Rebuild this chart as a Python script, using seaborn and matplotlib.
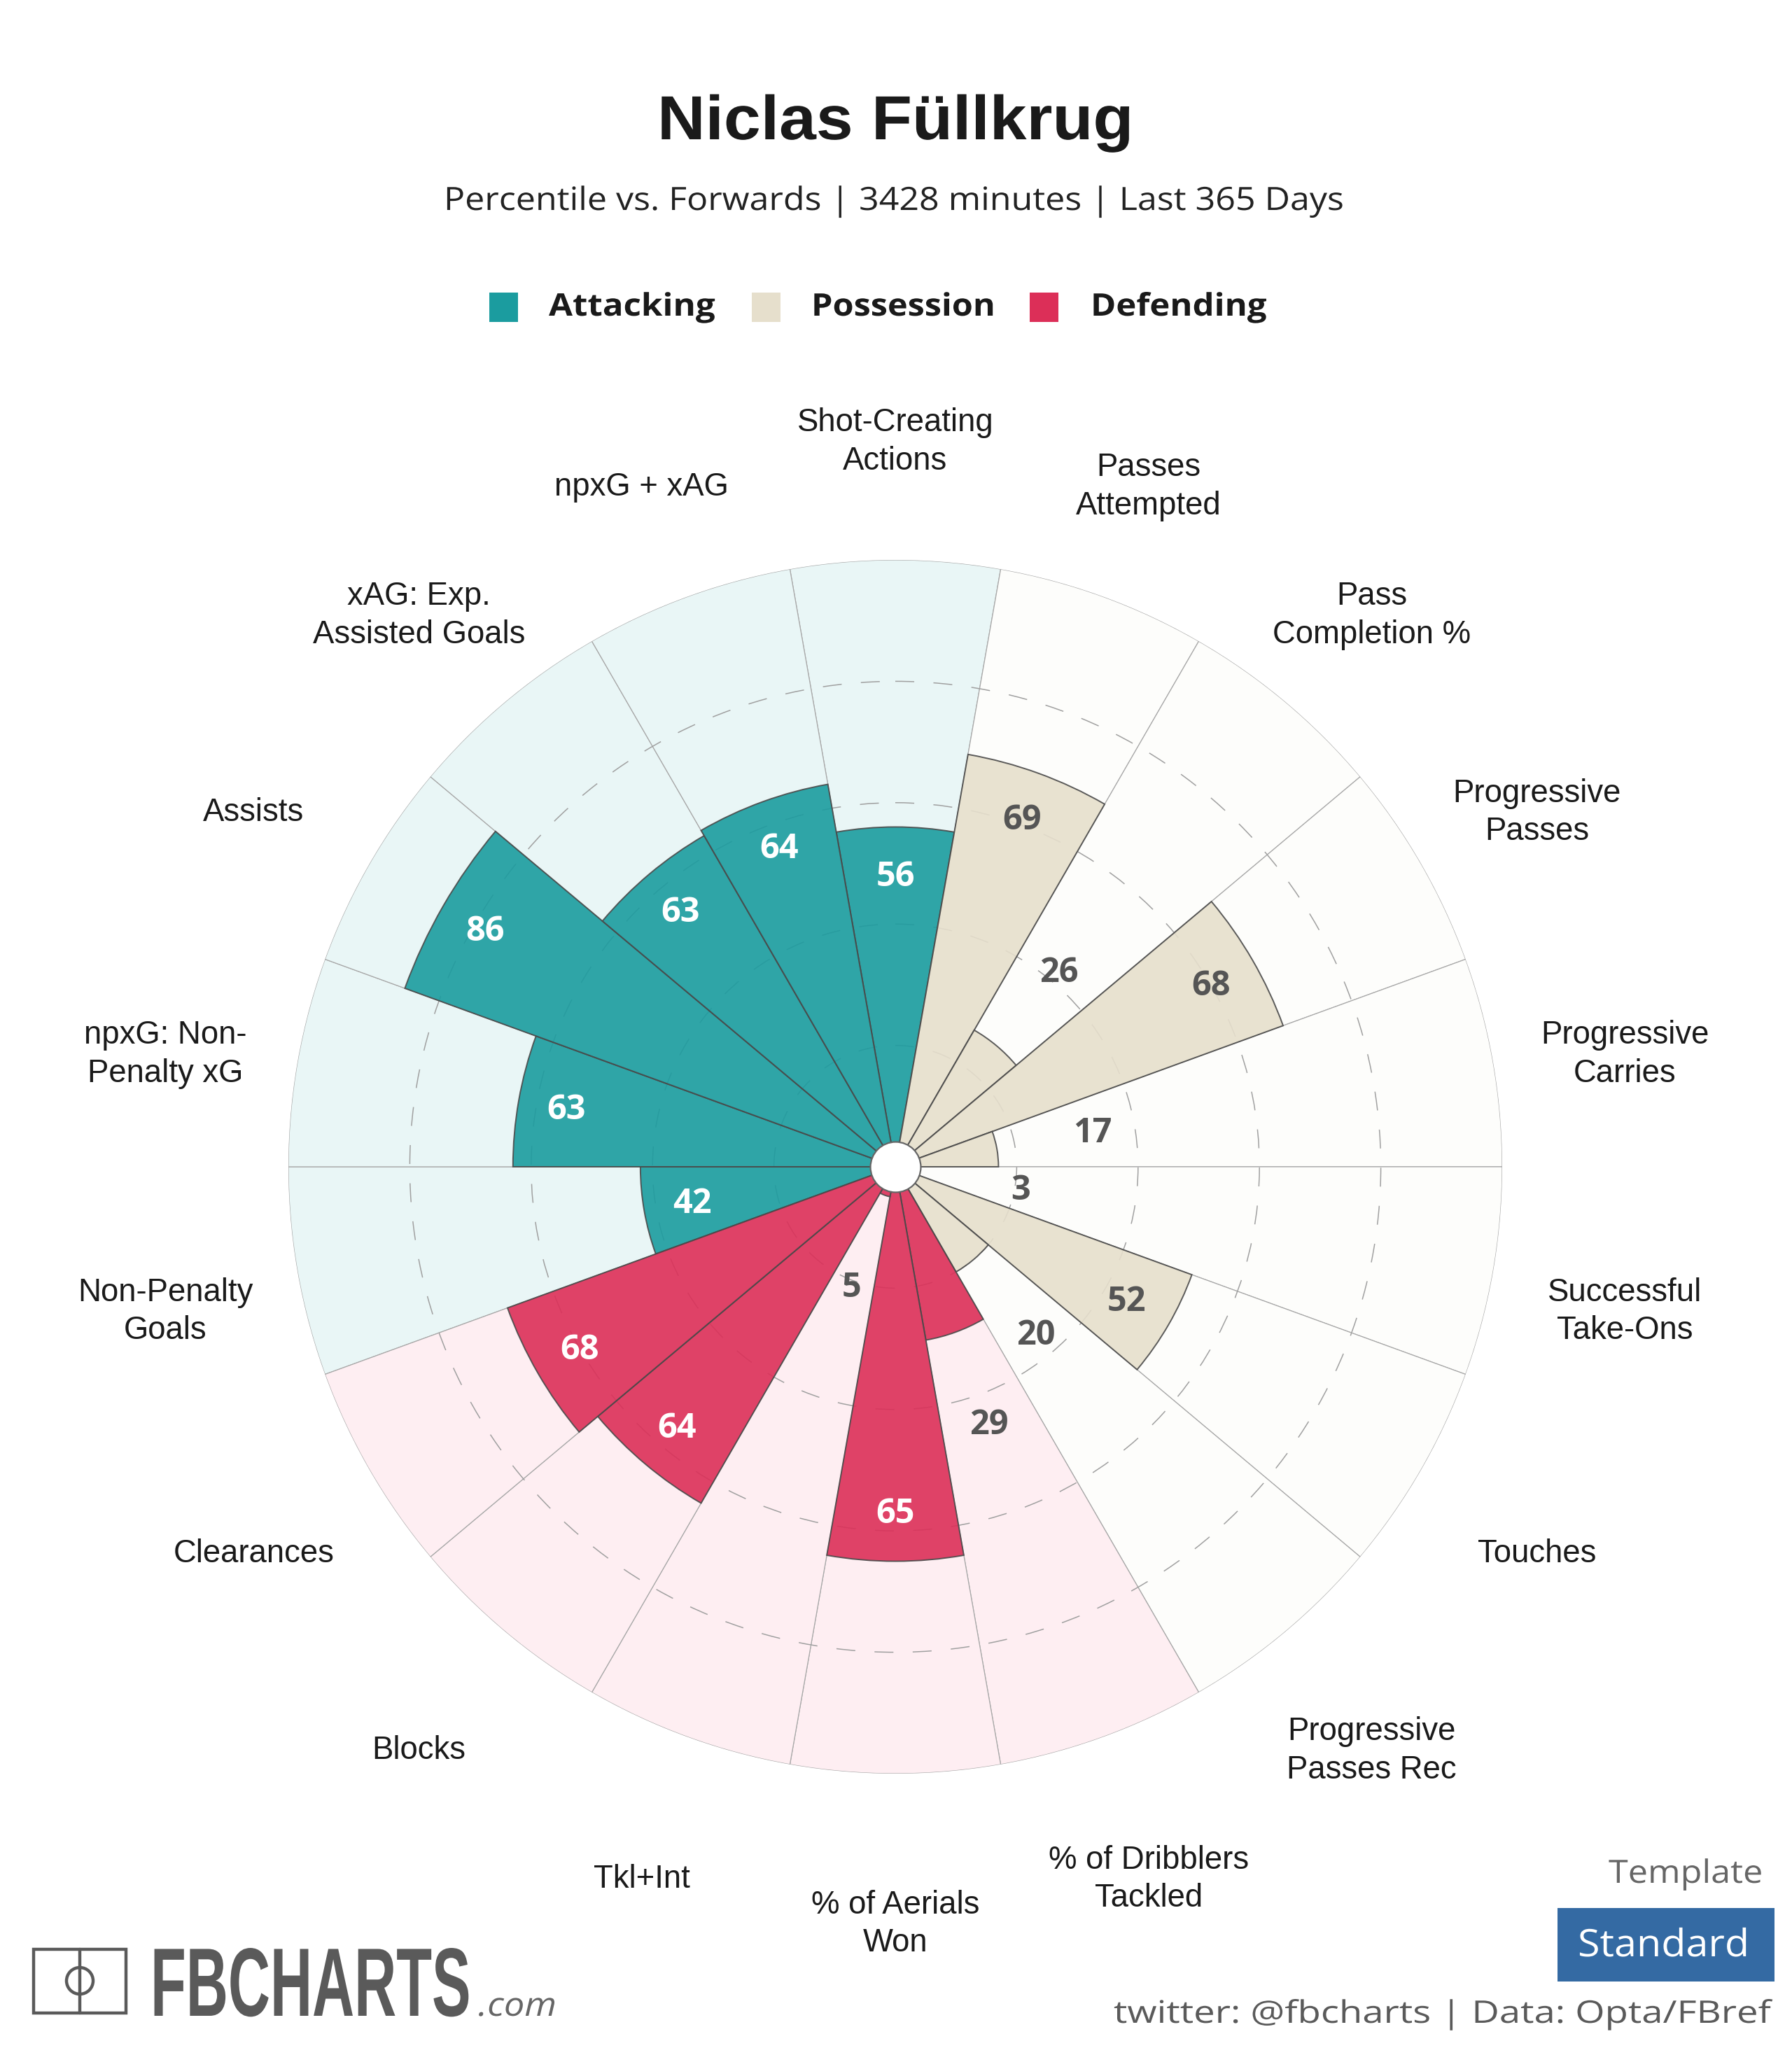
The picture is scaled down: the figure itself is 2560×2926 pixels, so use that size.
import numpy as np
import pandas as pd
import matplotlib
matplotlib.use('Agg')
import matplotlib.pyplot as plt
import matplotlib.patheffects as pe
from matplotlib.patches import Rectangle, Ellipse
from matplotlib.lines import Line2D
from matplotlib.transforms import Affine2D
import seaborn as sns

# valores del radar, en sentido horario desde arriba
metrics = ['Shot-Creating\nActions', 'Passes\nAttempted', 'Pass\nCompletion %', 'Progressive\nPasses',
           'Progressive\nCarries', 'Successful\nTake-Ons', 'Touches', 'Progressive\nPasses Rec',
           '% of Dribblers\nTackled', '% of Aerials\nWon', 'Tkl+Int', 'Blocks', 'Clearances',
           'Non-Penalty\nGoals', 'npxG: Non-\nPenalty xG', 'Assists', 'xAG: Exp.\nAssisted Goals', 'npxG + xAG']
percentiles = [56, 69, 26, 68, 17, 3, 52, 20, 29, 65, 5, 64, 68, 42, 63, 86, 63, 64]
groups = ['Attacking', 'Possession', 'Possession', 'Possession', 'Possession', 'Possession', 'Possession',
          'Possession', 'Defending', 'Defending', 'Defending', 'Defending', 'Defending',
          'Attacking', 'Attacking', 'Attacking', 'Attacking', 'Attacking']
group_order = ['Attacking', 'Possession', 'Defending']
full_scale = [100] * len(metrics)

bar_colors = {'Attacking': '#1B9C9F', 'Possession': '#E6DFCC', 'Defending': '#DC2F58'}
back_colors = {'Attacking': '#E9F6F6', 'Possession': '#FDFDFB', 'Defending': '#FEEEF2'}

W, H = 2560, 2926
DPI = 200
CX, CY, R = 1279, 1667, 867


def fx(x):
    return x / W


def fy(y):
    return 1 - y / H


class Stretch(pe.AbstractPathEffect):
    # estira el texto sobre su linea base, sigue siendo texto
    def __init__(self, sx, sy=1):
        super().__init__()
        self.sx = sx
        self.sy = sy

    def draw_path(self, renderer, gc, tpath, affine, rgbFace=None):
        renderer.draw_path(gc, tpath, Affine2D().scale(self.sx, self.sy) + affine, rgbFace)


def fit_text(x, baseline, width, text, sy=1, **kws):
    t = fig.text(fx(x), fy(baseline), text, ha='left', va='baseline', **kws)
    box = t.get_window_extent(fig.canvas.get_renderer())
    t.set_path_effects([Stretch(width / box.width, sy)])
    return t


sns.set_theme(style='white')
plt.rcParams['font.family'] = ['Liberation Sans', 'DejaVu Sans']

data = pd.DataFrame({'metric': metrics, 'value': percentiles, 'scale': full_scale, 'group': groups})
data['theta'] = np.deg2rad(np.arange(len(metrics)) * 360 / len(metrics))

fig = plt.figure(figsize=(W / DPI, H / DPI), dpi=DPI, facecolor='white')
ax = fig.add_axes([fx(CX - R), fy(CY + R), 2 * R / W, 2 * R / H], projection='polar')
ax.set_theta_zero_location('N')
ax.set_theta_direction(-1)

# sectores de fondo
sns.barplot(data=data, x='theta', y='scale', hue='group', hue_order=group_order, palette=back_colors,
            native_scale=True, dodge=False, width=1, saturation=1, errorbar=None, legend=False,
            edgecolor='#A8A8A8', linewidth=0.45, zorder=0.5, ax=ax)
# barras de percentil
sns.barplot(data=data, x='theta', y='value', hue='group', hue_order=group_order, palette=bar_colors,
            native_scale=True, dodge=False, width=1, saturation=1, errorbar=None, legend=False,
            edgecolor='#4A4A4A', linewidth=0.7, alpha=0.9, zorder=2, ax=ax)

ax.set_ylim(0, 100)
ax.set_xlabel('')
ax.set_ylabel('')
ax.set_xticks([])
ax.set_rgrids([20, 40, 60, 80], labels=[])
ax.set_axisbelow('line')
ax.grid(True, axis='y', color='#A0A0A0', linewidth=0.55, linestyle=(0, (17.7, 18)))
ax.spines['polar'].set_visible(False)
ax.patch.set_alpha(0)

# agujero central
ax.scatter([0], [0], s=671, facecolor='white', edgecolor='#666666', linewidth=0.8, zorder=6, clip_on=False)

# etiquetas de valor y de metrica
for theta, value, metric, group in zip(data['theta'], data['value'], data['metric'], data['group']):
    inside = value > 30
    on_dark = inside and group != 'Possession'
    ax.annotate(str(value), xy=(theta, value - 8 if inside else max(value + 16, 21)), xytext=(0, -0.9),
                textcoords='offset points', ha='center', va='center',
                color='white' if on_dark else '#555555',
                family='Open Sans', fontweight='bold', fontsize=17.5, zorder=7)
    ax.annotate(metric, xy=(theta, 122.1), xytext=(0, -8.4), textcoords='offset points', ha='center', va='center',
                color='#1A1A1A', fontsize=16.4, linespacing=1.31, annotation_clip=False)

# titulo y subtitulo
fit_text(939, 199, 681, 'Niclas Füllkrug', color='#1A1A1A', fontweight='bold', fontsize=32)
fit_text(634, 300, 1287, 'Percentile vs. Forwards | 3428 minutes | Last 365 Days',
         color='#222222', family='Open Sans', fontsize=16.5)

# leyenda
legend_x = [699, 1074, 1471]
legend_text_x = [784, 1159, 1558]
legend_w = [238, 263, 252]
for name, x0, x1, w in zip(group_order, legend_x, legend_text_x, legend_w):
    fig.add_artist(Rectangle((fx(x0), fy(460)), 41 / W, 42 / H, transform=fig.transFigure,
                             facecolor=bar_colors[name], edgecolor='none'))
    fit_text(x1, 451, w, name, color='#1A1A1A', family='Open Sans', fontweight='bold', fontsize=16)

# logo abajo a la izquierda
logo_gray = '#5A5A5A'
fig.add_artist(Rectangle((fx(48), fy(2876)), 132 / W, 91 / H, transform=fig.transFigure,
                         facecolor='none', edgecolor=logo_gray, linewidth=1.6))
fig.add_artist(Line2D([fx(114), fx(114)], [fy(2876), fy(2785)], transform=fig.transFigure,
                      color=logo_gray, linewidth=1.6))
fig.add_artist(Ellipse((fx(114), fy(2830)), 38 / W, 38 / H, transform=fig.transFigure,
                       facecolor='none', edgecolor=logo_gray, linewidth=1.6))
fit_text(215, 2880, 458, 'FBCHARTS', sy=50 / 30, color=logo_gray, fontweight='bold', fontsize=30)
fit_text(683, 2880, 112, '.com', color='#666666', family='Open Sans', style='italic', fontsize=17)

# pie abajo a la derecha
fit_text(2298, 2690, 220, 'Template', color='#666666', family='Open Sans', fontsize=16.5)
fig.add_artist(Rectangle((fx(2225), fy(2831)), 310 / W, 105 / H, transform=fig.transFigure,
                         facecolor='#346AA3', edgecolor='none'))
fit_text(2254, 2795, 245, 'Standard', color='white', family='Open Sans', fontsize=19.5)
fit_text(1591, 2890, 940, 'twitter: @fbcharts | Data: Opta/FBref', color='#5A5A5A',
         family='Open Sans', fontsize=16)

fig.savefig('out.png', dpi=DPI, facecolor='white')
